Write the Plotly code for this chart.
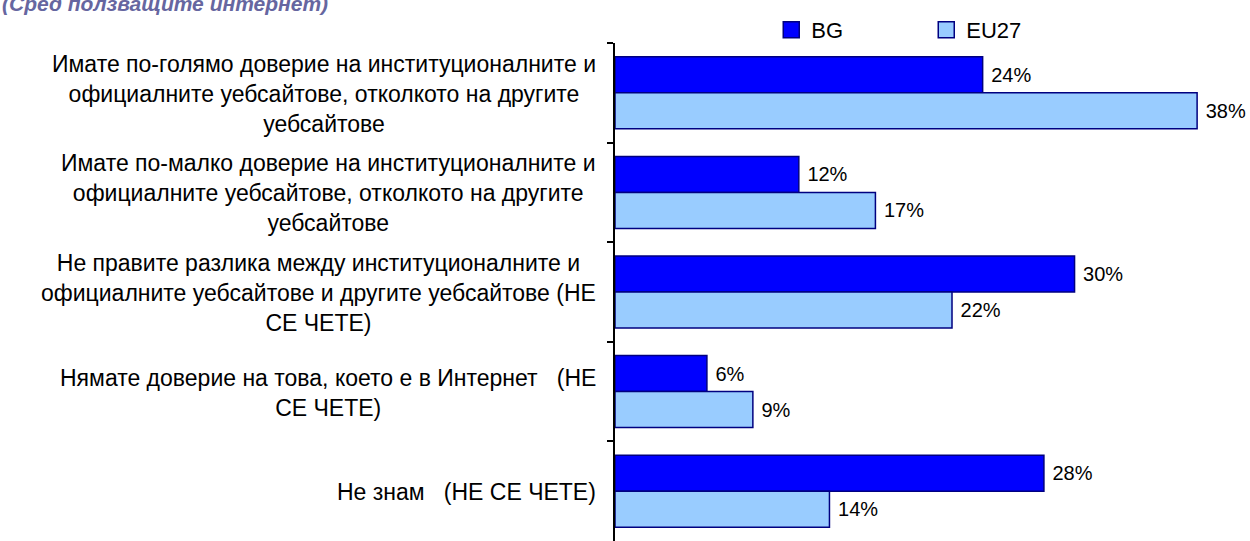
import plotly.graph_objects as go

categories = [
    "Имате по-голямо доверие на институционалните и<br>официалните уебсайтове, отколкото на другите<br>уебсайтове",
    "Имате по-малко доверие на институционалните и<br>официалните уебсайтове, отколкото на другите<br>уебсайтове",
    "Не правите разлика между институционалните и<br>официалните уебсайтове и другите уебсайтове (НЕ<br>СЕ ЧЕТЕ)",
    "Нямате доверие на това, което е в Интернет\u00a0\u00a0\u00a0(НЕ<br>СЕ ЧЕТЕ)",
    "Не знам\u00a0\u00a0\u00a0(НЕ СЕ ЧЕТЕ)",
]
bg_values = [24, 12, 30, 6, 28]
eu_values = [38, 17, 22, 9, 14]
series_names = ["BG", "EU27"]
title_text = "(Сред ползващите интернет)"

FONT = "Liberation Sans, Arial, sans-serif"
keys = [f"c{i}" for i in range(len(categories))]
colors = ["#0000FF", "#99CCFF"]
edge = "#000080"

fig = go.Figure()
for name, vals, col in zip(series_names, [bg_values, eu_values], colors):
    fig.add_trace(go.Bar(
        y=keys, x=vals, orientation="h", name=name, showlegend=False,
        marker=dict(color=col, line=dict(color=edge, width=1.5)),
        text=[f"\u00a0{v}%" for v in vals], textposition="outside",
        textfont=dict(size=20, color="black", family=FONT),
        cliponaxis=False, constraintext="none",
    ))
    # legend entry with a larger square symbol
    fig.add_trace(go.Scatter(
        x=[None], y=[None], mode="markers", name=name, showlegend=True,
        marker=dict(symbol="square", size=16, color=col, line=dict(color=edge, width=1.5)),
    ))

for k, lab in zip(keys, categories):
    fig.add_annotation(
        x=-0.028, xref="paper", y=k, yref="y", text=lab, showarrow=False,
        xanchor="right", yanchor="middle", align="center", yshift=-1,
        font=dict(size=23, color="black", family=FONT),
    )

fig.add_annotation(
    x=-615 / 625, xref="paper", xanchor="left",
    y=1 + (43 - 4) / 498, yref="paper", yanchor="middle",
    text=f"<b><i>{title_text}</i></b>", showarrow=False,
    font=dict(size=21, color="#6666A0", family=FONT),
)

fig.update_layout(
    width=1250, height=541,
    margin=dict(l=615, r=10, t=43, b=0),
    paper_bgcolor="white", plot_bgcolor="white",
    barmode="group", bargap=0.277, bargroupgap=0,
    font=dict(family=FONT, color="black"),
    showlegend=True,
    legend=dict(orientation="h", x=0.25, y=1 + 13 / 498, yanchor="middle", xanchor="left",
                font=dict(size=22, family=FONT), entrywidth=110, entrywidthmode="pixels",
                traceorder="normal", bgcolor="rgba(0,0,0,0)"),
    xaxis=dict(range=[0, 40.8], visible=False, showgrid=False, zeroline=False),
    yaxis=dict(autorange="reversed", showticklabels=False, showgrid=False,
               showline=True, linecolor="black", linewidth=1.5,
               ticks="outside", tickson="boundaries", ticklen=6, tickcolor="black",
               tickwidth=1.5, zeroline=False),
)

fig.write_html("out.html")
